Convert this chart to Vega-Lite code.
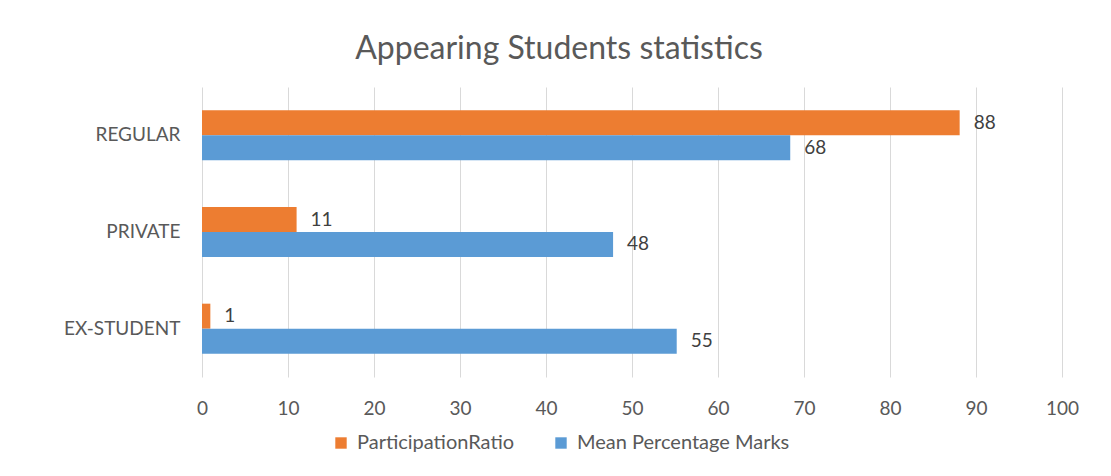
{
  "$schema": "https://vega.github.io/schema/vega-lite/v6.json",
  "width": 860,
  "height": 290,
  "autosize": {"type": "none"},
  "padding": {"left": 202, "top": 87, "right": 49, "bottom": 99},
  "background": "white",
  "title": {
    "text": "Appearing Students statistics",
    "font": "Lato",
    "fontSize": 32,
    "fontWeight": "normal",
    "color": "#595959",
    "anchor": "middle",
    "dx": -73,
    "offset": 21
  },
  "config": {
    "view": {"stroke": null},
    "font": "Lato"
  },
  "data": {
    "values": [
      {"category": "REGULAR", "series": "ParticipationRatio", "value": 88.1},
      {"category": "REGULAR", "series": "Mean Percentage Marks", "value": 68.4},
      {"category": "PRIVATE", "series": "ParticipationRatio", "value": 11.0},
      {"category": "PRIVATE", "series": "Mean Percentage Marks", "value": 47.8},
      {"category": "EX-STUDENT", "series": "ParticipationRatio", "value": 0.97},
      {"category": "EX-STUDENT", "series": "Mean Percentage Marks", "value": 55.2}
    ]
  },
  "encoding": {
    "y": {
      "field": "category",
      "type": "nominal",
      "sort": ["REGULAR", "PRIVATE", "EX-STUDENT"],
      "scale": {"paddingInner": 0.483, "paddingOuter": 0.2415},
      "axis": {
        "title": null,
        "domain": false,
        "ticks": false,
        "labelFontSize": 19,
        "labelColor": "#595959",
        "labelPadding": 22,
        "labelFont": "Lato"
      }
    },
    "yOffset": {
      "field": "series",
      "type": "nominal",
      "sort": ["ParticipationRatio", "Mean Percentage Marks"]
    },
    "x": {
      "field": "value",
      "type": "quantitative",
      "scale": {"domain": [0, 100], "nice": false},
      "axis": {
        "title": null,
        "domain": false,
        "ticks": false,
        "values": [0, 10, 20, 30, 40, 50, 60, 70, 80, 90, 100],
        "labelOverlap": false,
        "labelFlush": false,
        "grid": true,
        "gridColor": "#D9D9D9",
        "gridWidth": 1,
        "labelFontSize": 19,
        "labelColor": "#595959",
        "labelPadding": 22,
        "labelFont": "Lato"
      }
    }
  },
  "layer": [
    {
      "mark": {"type": "bar"},
      "encoding": {
        "color": {
          "field": "series",
          "type": "nominal",
          "scale": {
            "domain": ["ParticipationRatio", "Mean Percentage Marks"],
            "range": ["#ED7D31", "#5B9BD5"]
          },
          "legend": {
            "title": null,
            "orient": "none",
            "legendX": 129,
            "legendY": 346,
            "direction": "horizontal",
            "symbolType": "square",
            "symbolSize": 130,
            "symbolStrokeWidth": 0,
            "labelFontSize": 20,
            "labelColor": "#595959",
            "labelFont": "Lato",
            "labelOffset": 6,
            "labelLimit": 400,
            "columnPadding": 36
          }
        }
      }
    },
    {
      "mark": {
        "type": "text",
        "align": "left",
        "baseline": "middle",
        "dx": 14,
        "fontSize": 19,
        "font": "Lato",
        "color": "#404040"
      },
      "encoding": {
        "text": {"field": "value", "type": "quantitative", "format": ".0f"}
      }
    }
  ]
}
